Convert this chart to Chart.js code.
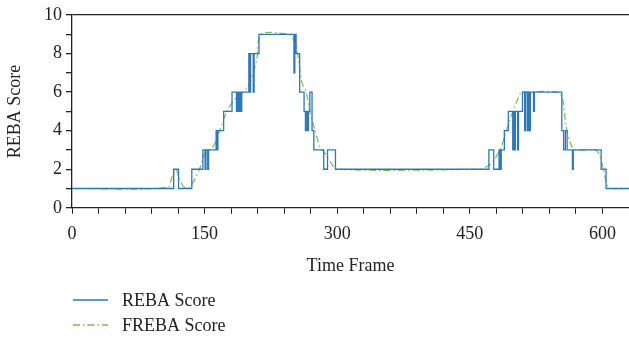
<!DOCTYPE html>
<html>
<head>
<meta charset="utf-8">
<script src="https://cdn.jsdelivr.net/npm/chart.js@4/dist/chart.umd.min.js"></script>
<style>
  html, body { margin: 0; padding: 0; background: #fff; }
  #wrap { width: 629px; height: 342px; position: relative; }
</style>
</head>
<body>
<div id="wrap"><canvas id="myChart" width="629" height="342"></canvas></div>
<script>
// REBA score, step changes: frame where a new score starts
var rebaFrames = [0, 115, 120.5, 135.5, 148, 150.5, 151.5, 153.5, 154.5, 163, 164, 165, 171.5, 181, 186, 187, 188.5, 189.5, 191, 192,
    200, 201, 202, 205, 206, 211.5, 251, 252, 253.5, 257.5, 262.5, 264, 265, 266.5, 267.5, 269, 271.5, 273.5, 284.7, 289, 298,
    471.5, 477, 483, 484.5, 485.5, 489, 493.5, 498.5, 499.5, 500.5, 501.5, 504, 505, 509.5, 512, 513, 515, 516, 517.5, 518.5, 522, 523,
    554, 556, 558, 560, 566, 567, 598.5, 604, 630];
var rebaScores = [1, 2, 1, 2, 3, 2, 3, 2, 3, 4, 3, 4, 5, 6, 5, 6, 5, 6, 5, 6,
    8, 6, 8, 6, 8, 9, 7, 9, 8, 6, 5, 4, 5, 4, 5, 6, 4, 3, 2, 3, 2,
    3, 2, 3, 2, 3, 4, 5, 3, 5, 3, 5, 3, 5, 6, 4, 6, 4, 6, 4, 6, 5, 6,
    4, 3, 4, 3, 2, 3, 2, 1, 1];

// FREBA score (smoothed)
var frebaFrames = [0, 108, 113, 117, 121, 126, 132, 138, 145, 150, 155, 160, 167, 175, 182, 190, 196, 202, 209, 214, 245, 250, 255, 260,
    265, 269, 275, 280, 285, 292, 299, 460, 468, 476, 484, 490, 497, 503, 508, 512, 550, 555, 559, 565, 570, 592, 596, 600, 604, 608, 630];
var frebaScores = [1, 1.05, 1.6, 2, 1.6, 1.1, 1.05, 1.4, 2.1, 2.8, 3, 3.2, 4, 5, 5.5, 5.9, 6.1, 6.6, 7.7, 9, 9, 8.8, 8, 6.5,
    6, 5, 4, 3.2, 2.9, 2.4, 2, 2, 2.1, 2.4, 3, 3.8, 4.8, 5.5, 6, 6, 6, 5.6, 4.2, 3.2, 3, 3, 2.8, 2.2, 1.4, 1.02, 1];

var xTicks = [0, 150, 300, 450, 600];
var yTicks = [0, 2, 4, 6, 8, 10];

var seriesLabels = ['REBA Score', 'FREBA Score'];
var seriesColors = ['#2e78b7', '#7cbc48'];

function toPoints(xs, ys) {
    var pts = [];
    for (var i = 0; i < xs.length; i++) {
        pts.push({x: xs[i], y: ys[i]});
    }
    return pts;
}

var serif = "'Liberation Serif', 'DejaVu Serif', serif";

// legend drawn as a vertical list under the axis
var legendPlugin = {
    id: 'sideLegend',
    afterDraw: function(chart) {
        var ctx = chart.ctx;
        var sets = chart.data.datasets;
        ctx.save();
        for (var i = 0; i < sets.length; i++) {
            var y = 300 + i * 25;
            ctx.strokeStyle = sets[i].borderColor;
            ctx.lineWidth = 1.3;
            ctx.setLineDash(sets[i].borderDash || []);
            ctx.beginPath();
            ctx.moveTo(73, y);
            ctx.lineTo(108, y);
            ctx.stroke();
            ctx.setLineDash([]);
            ctx.fillStyle = '#222';
            ctx.font = '18px ' + serif;
            ctx.textBaseline = 'middle';
            ctx.fillText(sets[i].label, 122, y + 1);
        }
        ctx.restore();
    }
};

var ctx = document.getElementById('myChart').getContext('2d');
var chart = new Chart(ctx, {
    type: 'line',
    data: {
        datasets: [{
            label: seriesLabels[0],
            data: toPoints(rebaFrames, rebaScores),
            borderColor: seriesColors[0],
            borderWidth: 1.3,
            stepped: true,
            pointRadius: 0,
            fill: false
        }, {
            label: seriesLabels[1],
            data: toPoints(frebaFrames, frebaScores),
            borderColor: seriesColors[1],
            borderWidth: 1.2,
            borderDash: [7, 3, 1.5, 3],
            tension: 0.3,
            pointRadius: 0,
            fill: false
        }]
    },
    options: {
        responsive: false,
        animation: false,
        layout: { padding: { top: 15, right: 0, left: 0, bottom: 65 } },
        plugins: {
            legend: { display: false },
            tooltip: { enabled: false }
        },
        scales: {
            x: {
                type: 'linear',
                min: 0,
                max: 630,
                border: { color: '#222', width: 1.3 },
                grid: { drawOnChartArea: false, color: '#222', tickLength: 6 },
                afterFit: function(scale) { scale.paddingRight = 0; },
                ticks: {
                    stepSize: 30,
                    autoSkip: false,
                    maxRotation: 0,
                    padding: 10,
                    color: '#222',
                    font: { family: serif, size: 18 },
                    callback: function(v) { return xTicks.indexOf(v) >= 0 ? v : ''; }
                },
                title: {
                    display: true,
                    text: 'Time Frame',
                    color: '#222',
                    font: { family: serif, size: 18 },
                    padding: { top: 0, bottom: 0 }
                }
            },
            y: {
                min: 0,
                max: 10,
                border: { color: '#222', width: 1.3 },
                grid: {
                    color: function(c) { return c.tick && c.tick.value === 10 ? '#222' : 'rgba(0,0,0,0)'; },
                    tickColor: '#222',
                    lineWidth: 1.3,
                    tickLength: 6
                },
                afterFit: function(scale) { scale.width = 72; },
                ticks: {
                    stepSize: 1,
                    autoSkip: false,
                    color: '#222',
                    font: { family: serif, size: 18 },
                    padding: 4,
                    callback: function(v) { return yTicks.indexOf(v) >= 0 ? v : ''; }
                },
                title: {
                    display: true,
                    text: 'REBA Score',
                    color: '#222',
                    font: { family: serif, size: 18 },
                    padding: { top: 4, bottom: 4 }
                }
            }
        }
    },
    plugins: [legendPlugin]
});
</script>
</body>
</html>
